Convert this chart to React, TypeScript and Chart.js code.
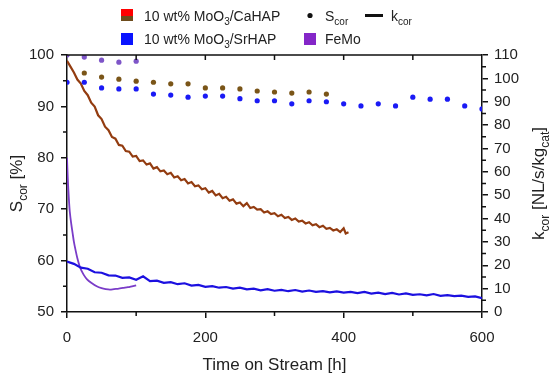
import React, { useEffect, useRef } from "react";
import { Chart, registerables } from "chart.js";
Chart.register(...registerables);

// ---- S_cor dots (left axis) ----
const femoSH = [0, 25, 50, 75, 100];
const femoS = [100, 99.6, 99.0, 98.6, 98.8];
const caSH = [25, 50, 75, 100, 125, 150, 175, 200, 225, 250, 275, 300, 325, 350, 375];
const caS = [96.5, 95.7, 95.3, 94.9, 94.7, 94.4, 94.4, 93.6, 93.6, 93.4, 93.0, 92.8, 92.6, 92.8, 92.4];
const srSH = [0, 25, 50, 75, 100, 125, 150, 175, 200, 225, 250, 275, 300, 325, 350, 375, 400, 425, 450, 475, 500, 525, 550, 575, 600];
const srS = [94.7, 94.7, 93.6, 93.4, 93.4, 92.4, 92.2, 91.8, 92.0, 92.0, 91.5, 91.1, 91.1, 90.5, 91.1, 90.9, 90.5, 90.1, 90.5, 90.1, 91.8, 91.4, 91.4, 90.1, 89.5];

// ---- k_cor lines (right axis) ----
const caKH = [0, 5, 10, 15, 20, 25, 30, 35, 40, 45, 50, 55, 60, 65, 70, 75, 80, 85, 90, 95, 100, 105, 110, 115, 120, 125, 130, 135, 140, 145, 150, 155, 160, 165, 170, 175, 180, 185, 190, 195, 200, 205, 210, 215, 220, 225, 230, 235, 240, 245, 250, 255, 260, 265, 270, 275, 280, 285, 290, 295, 300, 305, 310, 315, 320, 325, 330, 335, 340, 345, 350, 355, 360, 365, 370, 375, 380, 385, 390, 395, 400, 403, 407];
const caK = [107.5, 105.0, 102.5, 99.5, 97.8, 94.6, 92.8, 89.6, 87.9, 84.2, 82.6, 79.3, 77.8, 74.9, 74.2, 71.5, 71.2, 68.9, 68.6, 66.5, 66.8, 64.6, 64.9, 63.1, 63.6, 61.4, 62.0, 60.2, 60.6, 59.0, 59.6, 57.6, 58.1, 56.4, 56.9, 55.0, 55.6, 53.8, 54.2, 52.5, 53.0, 51.1, 51.8, 49.9, 50.6, 48.7, 49.3, 47.6, 48.2, 46.4, 46.9, 45.3, 46.6, 44.5, 45.0, 43.8, 44.0, 42.6, 43.1, 41.9, 42.3, 41.0, 41.6, 40.2, 40.7, 39.4, 40.0, 38.7, 39.1, 37.9, 38.4, 37.1, 37.6, 36.3, 36.9, 35.6, 36.0, 34.9, 35.4, 34.2, 35.8, 33.6, 34.1];
const srKH = [0, 10, 20, 30, 40, 50, 60, 70, 80, 90, 100, 110, 120, 130, 140, 150, 160, 170, 180, 190, 200, 210, 220, 230, 240, 250, 260, 270, 280, 290, 300, 310, 320, 330, 340, 350, 360, 370, 380, 390, 400, 410, 420, 430, 440, 450, 460, 470, 480, 490, 500, 510, 520, 530, 540, 550, 560, 570, 580, 590, 600];
const srK = [21.6, 20.6, 19.0, 18.5, 17.0, 16.8, 15.7, 15.6, 14.6, 14.8, 13.8, 15.3, 13.2, 13.4, 12.5, 12.8, 11.9, 12.3, 11.3, 11.6, 10.8, 11.1, 10.4, 10.7, 10.0, 10.4, 9.7, 10.0, 9.3, 9.8, 9.1, 9.5, 8.9, 9.4, 8.7, 9.2, 8.6, 8.9, 8.4, 8.8, 8.3, 8.6, 8.1, 8.6, 7.9, 8.3, 7.7, 8.2, 7.5, 8.0, 7.3, 7.6, 7.1, 7.7, 6.9, 7.2, 6.8, 7.0, 6.5, 6.7, 5.9];
const femoKH = [0, 1, 2, 3, 4, 6, 8, 10, 12, 15, 19, 24, 29, 35, 43, 50, 56, 62, 68, 75, 81, 88, 94, 100];
const femoK = [66, 58, 52, 47, 43, 38, 34, 30, 27, 23, 19, 16, 14, 12.5, 11, 10.2, 9.8, 9.6, 9.8, 10.0, 10.3, 10.6, 11.0, 11.4];

// ---- ticks ----
const xMajor = [0, 200, 400, 600];
const xMinor = [100, 300, 500];
const xTop = [100, 200, 300, 400, 500];
const yLeftMajor = [50, 60, 70, 80, 90, 100];
const yLeftMinor = [55, 65, 75, 85, 95];
const yRightMajor = [0, 10, 20, 30, 40, 50, 60, 70, 80, 90, 100, 110];
const yRightMinor = [5, 15, 25, 35, 45, 55, 65, 75, 85, 95, 105];

const C_CA_LINE = "#933c10";
const C_CA_DOT = "#7a5518";
const C_SR_LINE = "#1c10e0";
const C_SR_DOT = "#1a1af5";
const C_FE_LINE = "#7a3cc8";
const C_FE_DOT = "#7e55c8";

const FONT = "Arial, 'Liberation Sans', sans-serif";

type Part = { t: string; sub?: boolean };

function measureRich(ctx: CanvasRenderingContext2D, parts: Part[], size: number) {
  let w = 0;
  for (const p of parts) {
    ctx.font = `${p.sub ? Math.round(size * 0.7) : size}px ${FONT}`;
    w += ctx.measureText(p.t).width;
  }
  return w;
}

function drawRich(ctx: CanvasRenderingContext2D, parts: Part[], x: number, y: number, size: number) {
  let cx = x;
  for (const p of parts) {
    ctx.font = `${p.sub ? Math.round(size * 0.7) : size}px ${FONT}`;
    ctx.fillText(p.t, cx, p.sub ? y + size * 0.28 : y);
    cx += ctx.measureText(p.t).width;
  }
}

const legendCa: Part[] = [{ t: "10 wt% MoO" }, { t: "3", sub: true }, { t: "/CaHAP" }];
const legendSr: Part[] = [{ t: "10 wt% MoO" }, { t: "3", sub: true }, { t: "/SrHAP" }];
const legendFe: Part[] = [{ t: "FeMo" }];
const legendS: Part[] = [{ t: "S" }, { t: "cor", sub: true }];
const legendK: Part[] = [{ t: "k" }, { t: "cor", sub: true }];
const titleLeft: Part[] = [{ t: "S" }, { t: "cor", sub: true }, { t: " [%]" }];
const titleRight: Part[] = [{ t: "k" }, { t: "cor", sub: true }, { t: " [NL/s/kg" }, { t: "cat", sub: true }, { t: "]" }];
const titleX = "Time on Stream [h]";

const decorPlugin = {
  id: "decor",
  afterDraw(chart: any) {
    const ctx: CanvasRenderingContext2D = chart.ctx;
    const a = chart.chartArea;
    const xs = chart.scales.x;
    const yl = chart.scales.y;
    const yr = chart.scales.y2;
    ctx.save();
    ctx.strokeStyle = "#111";
    ctx.lineWidth = 1.5;
    ctx.beginPath();
    ctx.moveTo(a.left, a.top);
    ctx.lineTo(a.right, a.top);
    for (const v of xMinor) {
      const px = xs.getPixelForValue(v);
      ctx.moveTo(px, a.bottom);
      ctx.lineTo(px, a.bottom + 4);
    }
    for (const v of xTop) {
      const px = xs.getPixelForValue(v);
      ctx.moveTo(px, a.top);
      ctx.lineTo(px, a.top + 5);
    }
    for (const v of yLeftMinor) {
      const py = yl.getPixelForValue(v);
      ctx.moveTo(a.left, py);
      ctx.lineTo(a.left - 4, py);
    }
    for (const v of yRightMinor) {
      const py = yr.getPixelForValue(v);
      ctx.moveTo(a.right, py);
      ctx.lineTo(a.right + 4, py);
    }
    ctx.stroke();

    // legend
    ctx.fillStyle = "#ff0000";
    ctx.fillRect(121, 9, 12, 7);
    ctx.fillStyle = "#6d4c1c";
    ctx.fillRect(121, 16, 12, 5);
    ctx.fillStyle = "#0a14ff";
    ctx.fillRect(121, 33, 12, 12);
    ctx.fillStyle = "#8426c8";
    ctx.fillRect(304, 33, 12, 12);
    ctx.fillStyle = "#111";
    ctx.beginPath();
    ctx.arc(310, 15.5, 2.6, 0, Math.PI * 2);
    ctx.fill();
    ctx.lineWidth = 3;
    ctx.beginPath();
    ctx.moveTo(365, 15.5);
    ctx.lineTo(383, 15.5);
    ctx.stroke();
    ctx.fillStyle = "#222";
    ctx.textBaseline = "alphabetic";
    ctx.textAlign = "left";
    drawRich(ctx, legendCa, 144, 21, 14);
    drawRich(ctx, legendS, 325, 21, 14);
    drawRich(ctx, legendK, 391, 21, 14);
    drawRich(ctx, legendSr, 144, 44, 14);
    drawRich(ctx, legendFe, 325, 44, 14);

    // axis titles
    const cy = (a.top + a.bottom) / 2;
    const tsize = 17;
    ctx.save();
    ctx.translate(22, cy);
    ctx.rotate(-Math.PI / 2);
    drawRich(ctx, titleLeft, -measureRich(ctx, titleLeft, tsize) / 2, 0, tsize);
    ctx.restore();
    ctx.save();
    ctx.translate(544, cy);
    ctx.rotate(-Math.PI / 2);
    drawRich(ctx, titleRight, -measureRich(ctx, titleRight, tsize) / 2, 0, tsize);
    ctx.restore();
    ctx.font = `${tsize}px ${FONT}`;
    ctx.textAlign = "center";
    ctx.fillText(titleX, (a.left + a.right) / 2, 370);
    ctx.restore();
  },
};

const pts = (xs: number[], ys: number[]) => xs.map((x, i) => ({ x, y: ys[i] }));

export default function App() {
  const ref = useRef<HTMLCanvasElement | null>(null);
  useEffect(() => {
    if (!ref.current) return;
    const tickFont = { family: FONT, size: 15 };
    const chart = new Chart(ref.current, {
      type: "scatter",
      data: {
        datasets: [
          { label: "FeMo S", data: pts(femoSH, femoS), yAxisID: "y", showLine: false, pointRadius: 2.6, pointBorderWidth: 0, pointBackgroundColor: C_FE_DOT, borderColor: C_FE_DOT },
          { label: "CaHAP S", data: pts(caSH, caS), yAxisID: "y", showLine: false, pointRadius: 2.6, pointBorderWidth: 0, pointBackgroundColor: C_CA_DOT, borderColor: C_CA_DOT },
          { label: "SrHAP S", data: pts(srSH, srS), yAxisID: "y", showLine: false, pointRadius: 2.6, pointBorderWidth: 0, pointBackgroundColor: C_SR_DOT, borderColor: C_SR_DOT },
          { label: "CaHAP k", data: pts(caKH, caK), yAxisID: "y2", showLine: true, pointRadius: 0, borderWidth: 2.2, borderColor: C_CA_LINE, tension: 0 },
          { label: "SrHAP k", data: pts(srKH, srK), yAxisID: "y2", showLine: true, pointRadius: 0, borderWidth: 2.2, borderColor: C_SR_LINE, tension: 0 },
          { label: "FeMo k", data: pts(femoKH, femoK), yAxisID: "y2", showLine: true, pointRadius: 0, borderWidth: 1.8, borderColor: C_FE_LINE, tension: 0.3 },
        ],
      },
      options: {
        responsive: false,
        animation: false,
        layout: { padding: { top: 55, left: 0, right: 0, bottom: 0 } },
        plugins: { legend: { display: false }, tooltip: { enabled: false } },
        scales: {
          x: {
            type: "linear",
            min: 0,
            max: 600,
            afterBuildTicks: (s: any) => { s.ticks = xMajor.map((v) => ({ value: v })); },
            afterFit: (s: any) => { s.height = 62; },
            ticks: { font: tickFont, color: "#222", padding: 11 },
            grid: { display: true, drawOnChartArea: false, drawTicks: true, tickLength: 6, color: "#111", lineWidth: 1.5 },
            border: { display: true, color: "#111", width: 1.5 },
          },
          y: {
            type: "linear",
            position: "left",
            min: 50,
            max: 100,
            afterBuildTicks: (s: any) => { s.ticks = yLeftMajor.map((v) => ({ value: v })); },
            afterFit: (s: any) => { s.width = 67; },
            ticks: { font: tickFont, color: "#222", padding: 7 },
            grid: { display: true, drawOnChartArea: false, drawTicks: true, tickLength: 6, color: "#111", lineWidth: 1.5 },
            border: { display: true, color: "#111", width: 1.5 },
          },
          y2: {
            type: "linear",
            position: "right",
            min: 0,
            max: 110,
            afterBuildTicks: (s: any) => { s.ticks = yRightMajor.map((v) => ({ value: v })); },
            afterFit: (s: any) => { s.width = 68; },
            ticks: { font: tickFont, color: "#222", padding: 6 },
            grid: { display: true, drawOnChartArea: false, drawTicks: true, tickLength: 6, color: "#111", lineWidth: 1.5 },
            border: { display: true, color: "#111", width: 1.5 },
          },
        },
      },
      plugins: [decorPlugin],
    } as any);
    return () => chart.destroy();
  }, []);
  return (
    <div style={{ position: "fixed", left: 0, top: 0, width: 550, height: 374, background: "#fff" }}>
      <canvas ref={ref} width={550} height={374} style={{ display: "block", width: 550, height: 374 }} />
    </div>
  );
}
